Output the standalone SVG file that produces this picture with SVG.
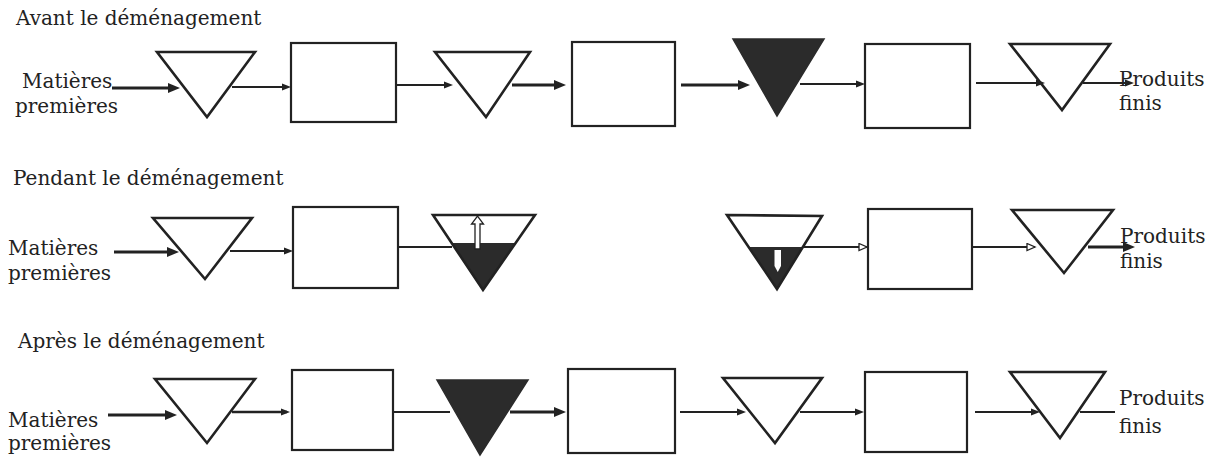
<svg xmlns="http://www.w3.org/2000/svg" width="1219" height="457" viewBox="0 0 1219 457">
<style>
text{font-family:"DejaVu Serif","Liberation Serif",serif;font-size:20px;fill:#222}
.box{fill:none;stroke:#222;stroke-width:2.2}
.tri{fill:none;stroke:#222;stroke-width:2.6;stroke-linejoin:miter}
.full{fill:#2b2b2b;stroke:#2b2b2b;stroke-width:1.5}
.part{fill:#2b2b2b}
.thick{fill:none;stroke:#222;stroke-width:3}
.med{fill:none;stroke:#222;stroke-width:2.4}
.thin{fill:none;stroke:#222;stroke-width:1.8}
</style>
<defs>
<marker id="ah" markerUnits="userSpaceOnUse" markerWidth="12" markerHeight="10" refX="6" refY="5" orient="auto"><path d="M0,0 L12,5 L0,10 z" fill="#222"/></marker>
<marker id="as" markerUnits="userSpaceOnUse" markerWidth="9" markerHeight="8" refX="6" refY="4" orient="auto"><path d="M0,0.5 L9,4 L0,7.5 z" fill="#222"/></marker>
<marker id="ao" markerUnits="userSpaceOnUse" markerWidth="11" markerHeight="9" refX="9" refY="4.5" orient="auto"><path d="M1,1 L9,4.5 L1,8 z" fill="#fff" stroke="#222" stroke-width="1.3"/></marker>
</defs>

<g id="titles">
<text x="16" y="25">Avant le déménagement</text>
<text x="13" y="185">Pendant le déménagement</text>
<text x="18" y="348">Après le déménagement</text>
</g>

<g id="labels">
<text x="22" y="88">Matières</text>
<text x="15" y="113">premières</text>
<text x="1119" y="86">Produits</text>
<text x="1119" y="110">finis</text>
<text x="8" y="255">Matières</text>
<text x="8" y="280">premières</text>
<text x="1120" y="243">Produits</text>
<text x="1120" y="268">finis</text>
<text x="8" y="427">Matières</text>
<text x="8" y="450">premières</text>
<text x="1119" y="405">Produits</text>
<text x="1119" y="433">finis</text>
</g>

<!-- Row 1 -->
<g id="r1-stock1"><polygon class="tri" points="157,52 255,52 207,117"/></g>
<g id="r1-op1"><rect class="box" x="291" y="43" width="105" height="79"/></g>
<g id="r1-stock2"><polygon class="tri" points="435,52 530,52 486,117"/></g>
<g id="r1-op2"><rect class="box" x="572" y="42" width="103" height="84"/></g>
<g id="r1-stock3"><polygon class="full" points="733,39 824,39 777,116"/></g>
<g id="r1-op3"><rect class="box" x="865" y="44" width="105" height="84"/></g>
<g id="r1-stock4"><polygon class="tri" points="1010,44 1110,44 1062,110"/></g>

<!-- Row 2 -->
<g id="r2-stock1"><polygon class="tri" points="153,218 252,218 205,279"/></g>
<g id="r2-op1"><rect class="box" x="293" y="207" width="105" height="81"/></g>
<g id="r2-stock2">
<polygon class="part" points="451.7,243 515.6,243 483,290"/>
<polygon class="tri" points="433,215 535,215 483,290"/>
<path d="M475,249 V224 H471.5 L477.5,216 L483.5,224 H480 V249 Z" fill="#fff" stroke="#222" stroke-width="1.3"/>
</g>
<g id="r2-stock3">
<polygon class="part" points="748.6,247 803,247 777,289"/>
<polygon class="tri" points="727,215 822,216 777,289"/>
<path d="M774.5,250 H781 V266 L777.75,272 L774.5,266 Z" fill="#fff"/>
</g>
<g id="r2-op2"><rect class="box" x="868" y="209" width="104" height="80"/></g>
<g id="r2-stock4"><polygon class="tri" points="1012,210 1113,210 1064,273"/></g>

<!-- Row 3 -->
<g id="r3-stock1"><polygon class="tri" points="155,379 255,379 207,443"/></g>
<g id="r3-op1"><rect class="box" x="292" y="370" width="101" height="80"/></g>
<g id="r3-stock2"><polygon class="full" points="437,380 528,380 480,455"/></g>
<g id="r3-op2"><rect class="box" x="568" y="369" width="107" height="84"/></g>
<g id="r3-stock3"><polygon class="tri" points="723,378 822,378 775,443"/></g>
<g id="r3-op3"><rect class="box" x="865" y="372" width="102" height="80"/></g>
<g id="r3-stock4"><polygon class="tri" points="1010,372 1105,372 1060,438"/></g>

<g id="connectors">
<!-- row 1 -->
<path class="thick" d="M112,88 H174" marker-end="url(#ah)"/>
<path class="thin" d="M232,87 H288" marker-end="url(#as)"/>
<path class="thin" d="M396,85 H450" marker-end="url(#as)"/>
<path class="thick" d="M512,85 H560" marker-end="url(#ah)"/>
<path class="thick" d="M681,85 H744" marker-end="url(#ah)"/>
<path class="thin" d="M800,84 H862" marker-end="url(#as)"/>
<path class="thin" d="M976,83 H1042" marker-end="url(#as)"/>
<path class="thin" d="M1083,83 H1131" marker-end="url(#as)"/>
<!-- row 2 -->
<path class="thick" d="M114,252 H173" marker-end="url(#ah)"/>
<path class="thin" d="M230,251 H290" marker-end="url(#as)"/>
<path class="thin" d="M398,247 H452"/>
<path class="thin" d="M803,247 H867" marker-end="url(#ao)"/>
<path class="thin" d="M972,247 H1035" marker-end="url(#ao)"/>
<path class="thick" d="M1088,247 H1129" marker-end="url(#ah)"/>
<!-- row 3 -->
<path class="thick" d="M108,415 H171" marker-end="url(#ah)"/>
<path class="med" d="M232,412 H287" marker-end="url(#as)"/>
<path class="thin" d="M393,412 H450"/>
<path class="thick" d="M510,412 H560" marker-end="url(#ah)"/>
<path class="thin" d="M680,412 H743" marker-end="url(#as)"/>
<path class="thin" d="M800,412 H861" marker-end="url(#as)"/>
<path class="thin" d="M975,412 H1037" marker-end="url(#as)"/>
<path class="thin" d="M1080,412 H1115"/>
</g>
</svg>
